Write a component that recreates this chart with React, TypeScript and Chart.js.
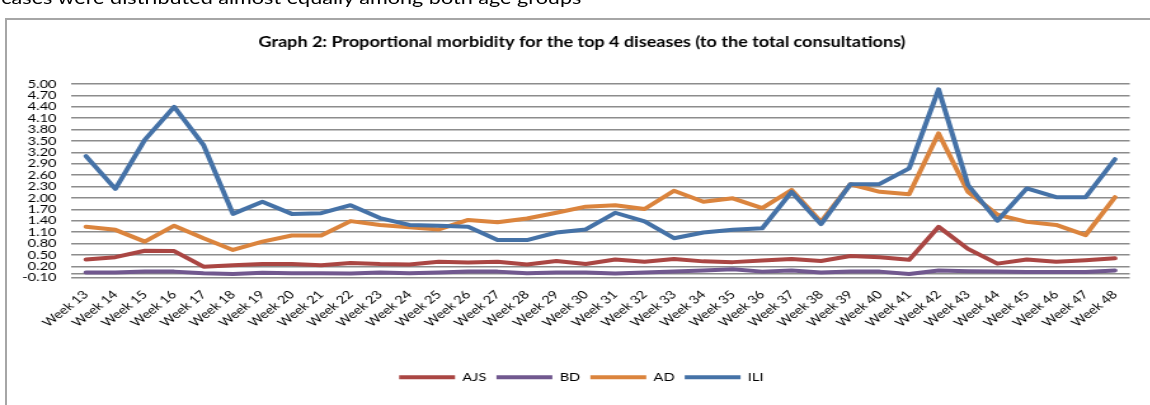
import { useEffect, useRef } from 'react';
import { Chart, registerables } from 'chart.js';

Chart.register(...registerables);

const WEEKS = [
  'Week 13', 'Week 14', 'Week 15', 'Week 16', 'Week 17', 'Week 18', 'Week 19', 'Week 20', 'Week 21',
  'Week 22', 'Week 23', 'Week 24', 'Week 25', 'Week 26', 'Week 27', 'Week 28', 'Week 29', 'Week 30',
  'Week 31', 'Week 32', 'Week 33', 'Week 34', 'Week 35', 'Week 36', 'Week 37', 'Week 38', 'Week 39',
  'Week 40', 'Week 41', 'Week 42', 'Week 43', 'Week 44', 'Week 45', 'Week 46', 'Week 47', 'Week 48',
];

const AJS = [0.38, 0.44, 0.61, 0.60, 0.19, 0.23, 0.26, 0.26, 0.23, 0.29, 0.26, 0.25, 0.32, 0.30, 0.32, 0.25, 0.34, 0.26,
  0.38, 0.32, 0.39, 0.33, 0.31, 0.35, 0.39, 0.34, 0.47, 0.44, 0.37, 1.24, 0.66, 0.27, 0.38, 0.32, 0.36, 0.41];
const BD = [0.04, 0.04, 0.06, 0.06, 0.02, 0.00, 0.03, 0.02, 0.02, 0.01, 0.04, 0.02, 0.04, 0.06, 0.06, 0.02, 0.04, 0.04,
  0.01, 0.04, 0.06, 0.09, 0.12, 0.06, 0.09, 0.04, 0.06, 0.06, 0.00, 0.09, 0.07, 0.06, 0.05, 0.05, 0.05, 0.09];
const AD = [1.24, 1.16, 0.85, 1.27, 0.94, 0.63, 0.85, 1.01, 1.01, 1.39, 1.29, 1.23, 1.17, 1.42, 1.36, 1.46, 1.61, 1.77,
  1.81, 1.71, 2.19, 1.90, 1.99, 1.73, 2.21, 1.37, 2.36, 2.16, 2.10, 3.70, 2.16, 1.56, 1.37, 1.29, 1.02, 2.02];
const ILI = [3.10, 2.24, 3.53, 4.40, 3.39, 1.58, 1.90, 1.58, 1.60, 1.81, 1.47, 1.29, 1.27, 1.24, 0.89, 0.89, 1.09, 1.17,
  1.61, 1.38, 0.94, 1.09, 1.16, 1.20, 2.16, 1.31, 2.36, 2.37, 2.78, 4.86, 2.34, 1.40, 2.25, 2.02, 2.02, 3.02];

const Y_TICKS = [-0.1, 0.2, 0.5, 0.8, 1.1, 1.4, 1.7, 2.0, 2.3, 2.6, 2.9, 3.2, 3.5, 3.8, 4.1, 4.4, 4.7, 5.0];
const AXIS_VALUE = 0;

const TITLE = 'Graph 2: Proportional morbidity for the top 4 diseases (to the total consultations)';
const TOP_TEXT = 'cases were distributed almost equally among both age groups';

const SX = 1.27;
const CW = Math.round(1150 / SX);
const CH = 405;
const FONT = 'Lato, "Open Sans", sans-serif';

const shiftPlugin = {
  id: 'shiftBlocks',
  afterLayout(chart: any) {
    if (chart.legend) { chart.legend.left += 13; chart.legend.right += 13; }
    if (chart.titleBlock) { chart.titleBlock.left += 13.5; chart.titleBlock.right += 13.5; }
  },
};

export default function App() {
  const ref = useRef<HTMLCanvasElement>(null);

  useEffect(() => {
    const mk = (label: string, data: number[], color: string) => ({
      label,
      data,
      borderColor: color,
      backgroundColor: color,
      borderWidth: 4,
      pointRadius: 0,
      pointHoverRadius: 0,
      tension: 0,
      borderJoinStyle: 'round' as const,
      borderCapStyle: 'round' as const,
      fill: false,
    });
    const chart = new Chart(ref.current!, {
      type: 'line',
      data: {
        labels: WEEKS,
        datasets: [
          mk('ILI', ILI, '#4572A7'),
          mk('AD', AD, '#DB843D'),
          mk('BD', BD, '#71588F'),
          mk('AJS', AJS, '#AA4643'),
        ],
      },
      plugins: [shiftPlugin],
      options: {
        responsive: false,
        animation: false,
        devicePixelRatio: 1,
        layout: { padding: { left: 0, right: 16.5, top: 0, bottom: 12 } },
        plugins: {
          title: {
            display: true,
            text: TITLE,
            color: '#000',
            font: { family: FONT, size: 14.2, weight: 'bold' },
            padding: { top: 33.5, bottom: 33.46 },
          },
          legend: {
            position: 'bottom',
            reverse: true,
            labels: {
              color: '#000',
              font: { family: FONT, size: 11.5 },
              usePointStyle: true,
              pointStyle: 'line',
              pointStyleWidth: 44,
              padding: 8,
            },
          },
          tooltip: { enabled: false },
        },
        scales: {
          x: {
            offset: true,
            grid: { display: false, drawTicks: false },
            border: { display: false },
            ticks: {
              color: '#000',
              font: { family: FONT, size: 11.5 },
              maxRotation: 45,
              minRotation: 45,
              autoSkip: false,
              padding: 10,
            },
            afterFit: (s: any) => { s.height = 85.8; },
          },
          y: {
            min: -0.1,
            max: 5.0,
            grid: { color: '#8c8c8c', lineWidth: 1.5, drawTicks: false },
            border: { display: false },
            afterBuildTicks: (s: any) => {
              s.ticks = [...Y_TICKS, AXIS_VALUE].sort((a, b) => a - b).map((v) => ({ value: v }));
            },
            ticks: {
              color: '#000',
              font: { family: FONT, size: 11.5 },
              padding: 11.6,
              autoSkip: false,
              callback: (v: any) => (Number(v) === AXIS_VALUE ? '' : Number(v).toFixed(2)),
            },
            afterFit: (s: any) => { s.width = 56.1; },
          },
        },
      },
    });
    return () => chart.destroy();
  }, []);

  return (
    <div style={{ position: 'fixed', left: 0, top: 0, width: 1150, height: CH, overflow: 'hidden', background: '#fff' }}>
      <div style={{ position: 'absolute', left: 0, top: 0, width: CW, height: CH, transform: `scaleX(${SX})`, transformOrigin: '0 0' }}>
        <div style={{ position: 'absolute', left: 1, top: -11, fontFamily: FONT, fontSize: 17, lineHeight: '17px', whiteSpace: 'nowrap', color: '#000' }}>
          {TOP_TEXT}
        </div>
        <canvas ref={ref} width={CW} height={CH} style={{ position: 'absolute', left: 0, top: 0, width: CW, height: CH }} />
      </div>
      <div style={{ position: 'absolute', left: 5, top: 18, width: 1200, height: 500, border: '2px solid #a6a6a6', boxSizing: 'border-box' }} />
    </div>
  );
}
